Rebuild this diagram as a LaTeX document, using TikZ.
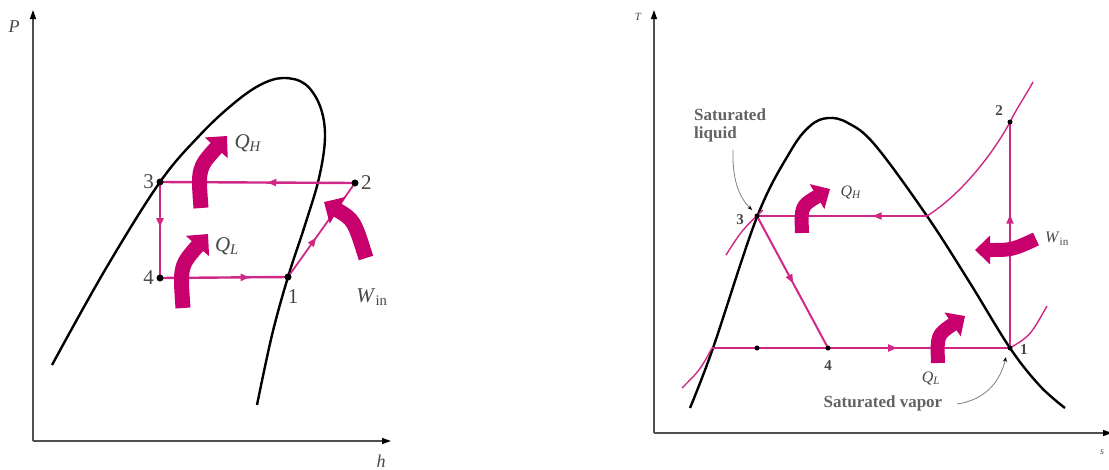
\documentclass[tikz,border=0pt]{standalone}
\usepackage{fontspec}
\setmainfont{Liberation Serif}
\usetikzlibrary{arrows.meta,decorations.markings}
\definecolor{mag}{RGB}{200,0,110}
\definecolor{magl}{RGB}{208,40,135}
\definecolor{axisgray}{RGB}{80,80,80}
\definecolor{txtgray}{RGB}{70,70,70}
\newcommand{\qsym}[2]{\textit{#1}\textsubscript{#2}}
\begin{document}
\begin{tikzpicture}[x=1pt,y=-1pt,
  axis/.style={draw=axisgray,line width=1.3pt,-{Triangle[width=6pt,length=9pt,color=black]}},
  dome/.style={draw=black,line width=2.4pt},
  cyc/.style={draw=magl,line width=2.4pt},
  cycthin/.style={draw=magl,line width=1.4pt},
  dot/.style={circle,fill=black,inner sep=0pt,minimum size=7pt},
  smalldot/.style={circle,fill=black,inner sep=0pt,minimum size=5pt},
  heat/.style={draw=mag,line width=15pt,-{Triangle[width=30pt,length=16pt]}},
  heatR/.style={draw=mag,line width=14pt,-{Triangle[width=28pt,length=15pt]}},
  midarrow/.style={decoration={markings,mark=at position #1 with {\arrow{Triangle[width=7pt,length=9pt]}}},postaction=decorate},
  labL/.style={font=\fontsize{21}{21}\selectfont,text=txtgray,inner sep=1pt},
  labR/.style={font=\fontsize{15}{15}\selectfont\bfseries,text=txtgray,inner sep=1pt},
  qR/.style={font=\fontsize{16}{16}\selectfont,text=txtgray,inner sep=1pt},
  note/.style={font=\fontsize{17}{18}\selectfont\bfseries,text=txtgray!85,inner sep=0pt},
  leader/.style={draw=gray,line width=0.8pt,-{Stealth[length=5pt,width=4pt,color=black]}},
]
\useasboundingbox (0,0) rectangle (1109,469);

% ---------------- Left: P-h diagram ----------------
\coordinate (LO) at (33,441);
\coordinate (LY) at (33,10);
\coordinate (LX) at (391,441);
\draw[axis] (LO) -- (LY);
\draw[axis] (LO) -- (LX);
\node[font=\fontsize{18}{18}\selectfont\itshape,text=txtgray] (Plab) at (14,27) {P};
\node[font=\fontsize{18}{18}\selectfont\itshape,text=txtgray] (hlab) at (381,461) {h};

\draw[dome] plot[smooth,tension=0.6] coordinates {(52,365) (105,270) (160,182) (200,135) (233,104) (260,85) (283,78) (305,84) (320,106) (325,137) (319,178) (305,225) (288,277) (272,335) (257,405)};

\coordinate (L3) at (160,182);
\coordinate (L2) at (355,183);
\coordinate (L4) at (160,278);
\coordinate (L1) at (288,277);

\draw[cyc,midarrow=0.45] (L2) -- (L3);
\draw[cyc,midarrow=0.47] (L3) -- (L4);
\draw[cyc,midarrow=0.70] (L4) -- (L1);
\draw[cycthin,line width=1.8pt,midarrow=0.42] (L1) -- (L2);

\node[dot] (L3d) at (L3) {};
\node[dot] (L2d) at (L2) {};
\node[dot] (L4d) at (L4) {};
\node[dot] (L1d) at (L1) {};

\node[labL,anchor=east] (L3l) at (155,182) {3};
\node[labL,anchor=west] (L2l) at (360,183) {2};
\node[labL,anchor=east] (L4l) at (155,278) {4};
\node[labL] (L1l) at (293,297) {1};

\draw[heat] (201,208) .. controls (198,168) .. (227,136);
\draw[heat] (183,308) .. controls (180,266) .. (208,234);
\draw[heat] (366,258) .. controls (354,220) .. (324,202);

\node[labL] (LQH) at (248,143) {\qsym{Q}{\textit{H}}};
\node[labL] (LQL) at (227,246) {\qsym{Q}{\textit{L}}};
\node[labL] (LW) at (372,297) {\qsym{W}{in}};

% ---------------- Right: T-s diagram ----------------
\coordinate (RO) at (654,433);
\coordinate (RY) at (654,10);
\coordinate (RX) at (1112,433);
\draw[axis] (RO) -- (RY);
\draw[axis] (RO) -- (RX);
\node[font=\fontsize{11}{11}\selectfont\itshape,text=txtgray] (Tlab) at (638,17) {T};
\node[font=\fontsize{10}{10}\selectfont\itshape,text=txtgray] (slab) at (1102,452) {s};

\draw[dome] plot[smooth,tension=0.6] coordinates {(690,408) (713,348) (757,217) (790,152) (810,126) (828,118) (848,123) (875,145) (927,216) (970,283) (1010,348) (1040,386) (1065,408)};

\coordinate (R3) at (757,216);
\coordinate (R2) at (1010,122);
\coordinate (R1) at (1010,348);
\coordinate (R4) at (828,348);
\coordinate (Rx) at (927,216);
\coordinate (Rd) at (757,348);
\coordinate (Rl) at (712,348);

% constant pressure curves
\draw[cycthin] (Rx) .. controls (962,194) and (994,152) .. (R2) .. controls (1018,106) and (1026,95) .. (1033,82);
\draw[cycthin] (726,255) .. controls (742,230) .. (763,210);
\draw[cycthin] (R1) .. controls (1030,336) .. (1047,306);
\draw[cycthin] (682,388) .. controls (700,370) .. (Rl);

\draw[cycthin] (Rl) -- (R4);
\draw[cyc,line width=2pt,midarrow=0.32] (Rx) -- (R3);
\draw[cyc,line width=2pt,midarrow=0.51] (R3) -- (R4);
\draw[cyc,line width=2pt,midarrow=0.38] (R4) -- (R1);
\draw[cyc,line width=2pt,midarrow=0.59] (R1) -- (R2);

\node[smalldot] (R3d) at (R3) {};
\node[smalldot] (R2d) at (R2) {};
\node[smalldot] (R1d) at (R1) {};
\node[smalldot] (R4d) at (R4) {};
\node[smalldot] (Rdd) at (Rd) {};

\node[labR,anchor=east] (R3l) at (745,220) {3};
\node[labR] (R2l) at (999,111) {2};
\node[labR,anchor=west] (R1l) at (1019,350) {1};
\node[labR] (R4l) at (828,366) {4};

\draw[heatR] (802,233) .. controls (801,206) .. (830,189);
\draw[heatR] (938,363) .. controls (937,335) .. (965,316);
\draw[heatR] (1036,239) .. controls (1012,250) .. (975,250);

\node[qR] (RQH) at (851,192) {\qsym{Q}{\textit{H}}};
\node[qR] (RQL) at (931,378) {\qsym{Q}{\textit{L}}};
\node[qR] (RW) at (1057,239) {\qsym{W}{in}};

\node[note,align=left,anchor=north west] (satliq) at (694,109) {Saturated\\liquid};
\node[note] (satvap) at (883,403) {Saturated vapor};
\draw[leader] (733,150) .. controls (732,185) and (742,200) .. (752,210);
\draw[leader] (957,404) .. controls (985,400) and (1000,382) .. (1006,357);
\end{tikzpicture}
\end{document}
